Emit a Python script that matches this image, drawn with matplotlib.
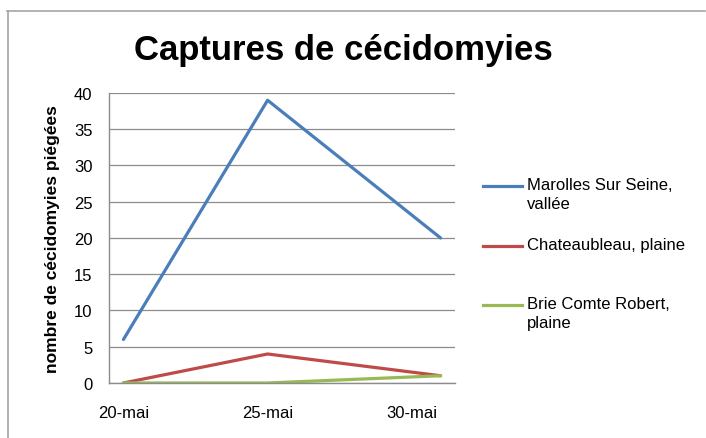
import datetime as dt
import matplotlib
matplotlib.use("Agg")
import matplotlib.pyplot as plt
import matplotlib.dates as mdates
from matplotlib.lines import Line2D

plt.rcParams['font.family'] = ['Liberation Sans', 'DejaVu Sans']

# data
dates = [dt.date(2011, 5, 20), dt.date(2011, 5, 25), dt.date(2011, 5, 31)]
marolles = [6, 39, 20]
chateaubleau = [0, 4, 1]
brie = [0, 0, 1]
series_names = ["Marolles Sur Seine,\nvallée", "Chateaubleau, plaine",
                "Brie Comte Robert,\nplaine"]
tick_dates = [dt.date(2011, 5, 20), dt.date(2011, 5, 25), dt.date(2011, 5, 30)]
tick_labels = ["20-mai", "25-mai", "30-mai"]
y_ticks = [0, 5, 10, 15, 20, 25, 30, 35, 40]

colors = ['#4A7EBB', '#BE4B48', '#98B954']

fig = plt.figure(figsize=(7.06, 4.39), dpi=100)
ax = fig.add_axes([0.1544, 0.1253, 0.4901, 0.6606])

for vals, c in zip([marolles, chateaubleau, brie], colors):
    ax.plot(dates, vals, color=c, lw=2.3, solid_capstyle='round')

ax.set_xlim(mdates.date2num(dt.datetime(2011, 5, 19, 12)),
            mdates.date2num(dt.datetime(2011, 5, 31, 12)))
ax.set_ylim(0, 40)
ax.set_yticks(y_ticks)
ax.set_xticks(tick_dates)
ax.set_xticklabels(tick_labels)
ax.tick_params(axis='both', length=0, labelsize=12)
ax.tick_params(axis='x', pad=16)
ax.tick_params(axis='y', pad=12)
ax.yaxis.grid(True, color='#8C8C8C', lw=0.9)
ax.set_axisbelow(True)
for s in ['top', 'right']:
    ax.spines[s].set_visible(False)
for s in ['left', 'bottom']:
    ax.spines[s].set_color('#8C8C8C')
    ax.spines[s].set_linewidth(1.0)

ax.set_ylabel("nombre de cécidomyies piégées", fontsize=12.5, fontweight='bold',
              labelpad=10)

fig.text(0.487, 0.884, "Captures de cécidomyies", fontsize=25,
         fontweight='bold', ha='center', va='center')

# legend drawn by hand to keep Excel-like layout
leg_y = [187, 247, 306]
for name, c, y in zip(series_names, colors, leg_y):
    yf = 1 - y / 439
    fig.add_artist(Line2D([483 / 706, 522 / 706], [yf, yf], color=c, lw=2.3,
                          transform=fig.transFigure))
    fig.text(527 / 706, 1 - (y - 9) / 439, name, fontsize=12, ha='left',
             va='top', linespacing=1.3)

# outer frame (top and left edges)
fig.add_artist(Line2D([7 / 706, 705 / 706], [1 - 12 / 439, 1 - 12 / 439],
                      color='#A6A6A6', lw=1.2, transform=fig.transFigure))
fig.add_artist(Line2D([8 / 706, 8 / 706], [1 - 12 / 439, 0],
                      color='#A6A6A6', lw=1.2, transform=fig.transFigure))

fig.savefig("out.png", dpi=100)
